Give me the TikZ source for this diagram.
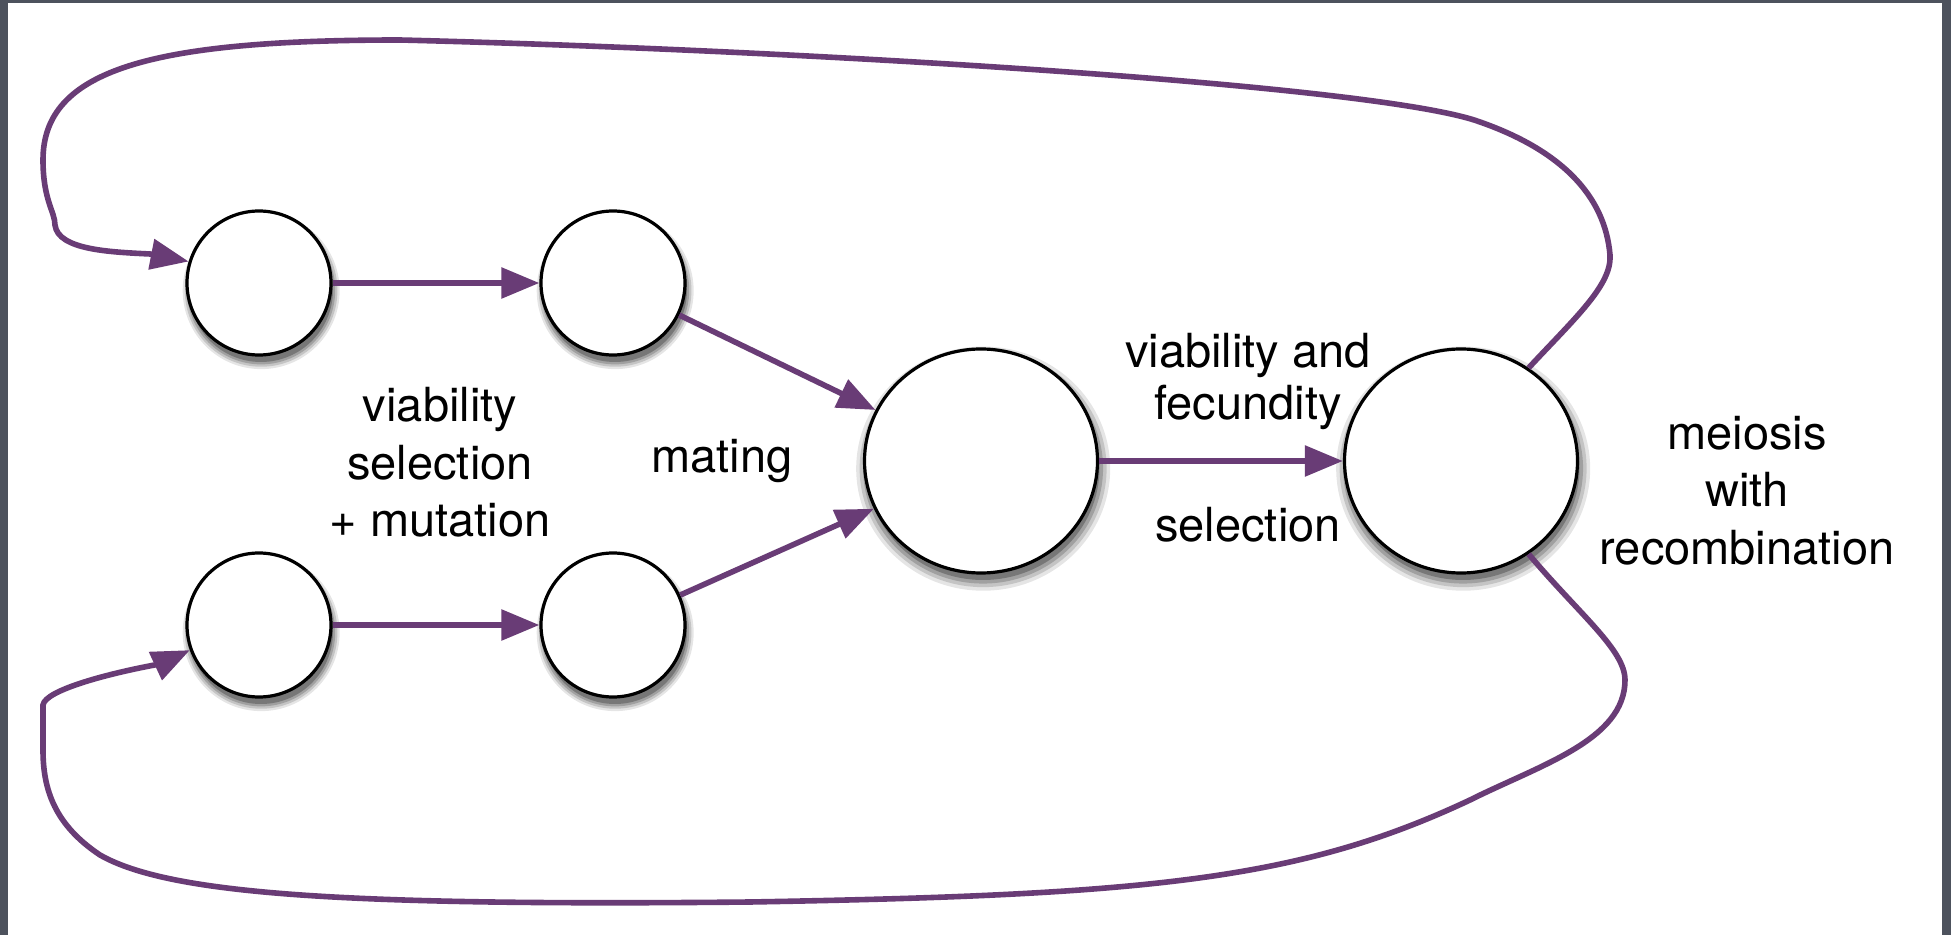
\documentclass[tikz,border=0pt]{standalone}
\usepackage{fontspec}
\setmainfont{TeX Gyre Heros}
\usetikzlibrary{arrows.meta,shapes.geometric,shadows}
\definecolor{loopc}{RGB}{105,60,118}
\definecolor{framec}{RGB}{77,82,93}
\begin{document}
\begin{tikzpicture}[x=0.5pt,y=-0.5pt,
  shad/.style={
    general shadow={fill=black,opacity=0.10,shadow xshift=1pt,shadow yshift=-3.5pt,shadow scale=1.09},
    general shadow={fill=black,opacity=0.14,shadow xshift=1pt,shadow yshift=-3.5pt,shadow scale=1.06},
    general shadow={fill=black,opacity=0.18,shadow xshift=1pt,shadow yshift=-3.5pt,shadow scale=1.03},
    general shadow={fill=black,opacity=0.25,shadow xshift=1pt,shadow yshift=-3.5pt,shadow scale=1.0}},
  state/.style={circle,draw=black,line width=1.6pt,fill=white,minimum size=72pt,inner sep=0pt,shad},
  bigstate/.style={ellipse,draw=black,line width=1.6pt,fill=white,minimum width=116.5pt,minimum height=112pt,inner sep=0pt,shad},
  flow/.style={draw=loopc,line width=2.8pt,-{Triangle[length=19pt,width=15pt]}},
  lbl/.style={anchor=base,font=\fontsize{23.5pt}{28.5pt}\selectfont,inner sep=0pt}]
\fill[framec] (0,0) rectangle (1951,935);
\fill[white] (8,3) rectangle (1942,935);
\useasboundingbox (0,0) rectangle (1951,935);

\node[state] (A1) at (259,283) {};
\node[state] (A2) at (613,283) {};
\node[state] (B1) at (259,625) {};
\node[state] (B2) at (613,625) {};
\node[bigstate] (M) at (981,461) {};
\node[bigstate] (R) at (1461,461) {};

\draw[flow] (A1.east) -- (A2.west);
\draw[flow] (B1.east) -- (B2.west);
\draw[flow] (A2) -- (M);
\draw[flow] (B2) -- (M);
\draw[flow] (M.east) -- (R.west);

\draw[flow] (R.54) .. controls (1575,318) and (1612,285) .. (1610,255)
  .. controls (1605,195) and (1560,150) .. (1480,122)
  .. controls (1380,85) and (800,50) .. (400,40)
  .. controls (150,40) and (43,70) .. (43,160)
  .. controls (43,200) and (55,212) .. (55,225)
  .. controls (58,250) and (110,252) .. (150,254)
  -- (A1.163);

\draw[flow] (R.-54) .. controls (1580,615) and (1625,650) .. (1625,680)
  .. controls (1625,740) and (1540,765) .. (1470,800)
  .. controls (1300,880) and (1150,895) .. (750,902)
  .. controls (350,906) and (170,895) .. (100,855)
  .. controls (55,825) and (43,790) .. (43,750)
  -- (43,705)
  .. controls (45,690) and (110,673) .. (160,664)
  -- (B1.-160);

\node[lbl] (t1) at (440,422) {viability};
\node[lbl] (t2) at (440,480) {selection};
\node[lbl] (t3) at (440,537) {+ mutation};
\node[lbl] (t4) at (722,473) {mating};
\node[lbl] (t5) at (1248,368) {viability and};
\node[lbl] (t6) at (1248,420) {fecundity};
\node[lbl] (t7) at (1248,542) {selection};
\node[lbl] (t8) at (1747,450) {meiosis};
\node[lbl] (t9) at (1747,507) {with};
\node[lbl] (t10) at (1747,565) {recombination};
\end{tikzpicture}
\end{document}
